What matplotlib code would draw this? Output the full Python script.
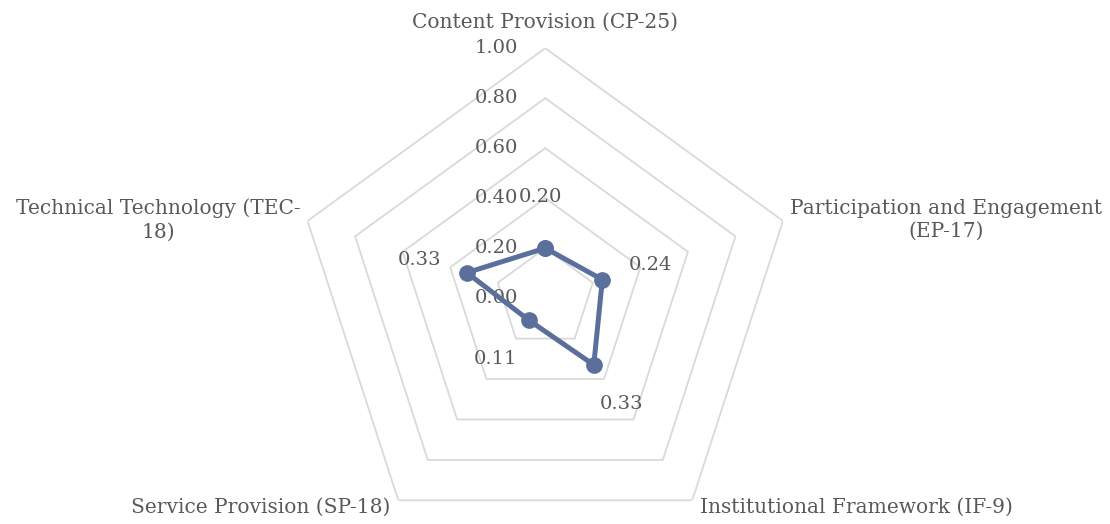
import numpy as np
import matplotlib.pyplot as plt

# data
categories = ['Content Provision (CP-25)', 'Participation and Engagement\n(EP-17)',
              'Institutional Framework (IF-9)', 'Service Provision (SP-18)',
              'Technical Technology (TEC-\n18)']
values = [0.20, 0.24, 0.33, 0.11, 0.33]
ticks = [0.0, 0.2, 0.4, 0.6, 0.8, 1.0]

plt.rcParams['font.family'] = ['DejaVu Serif']
txt_col = '#595959'
line_col = '#5b6f9c'
grid_col = '#d9d9d9'

fig = plt.figure(figsize=(11.1, 5.24), dpi=100)
ax = fig.add_axes([0.266, -0.046, 0.4505, 0.954], projection='polar')
ax.set_theta_offset(np.pi / 2)
ax.set_theta_direction(-1)
ax.set_ylim(0, 1)
ax.axis('off')

n = len(categories)
theta = np.linspace(0, 2 * np.pi, n, endpoint=False)
theta_c = np.append(theta, theta[0])

# pentagon grid
for t in ticks[1:]:
    ax.plot(theta_c, [t] * (n + 1), color=grid_col, lw=1.3, zorder=1)

# tick labels along top spoke
for t in ticks:
    ax.annotate(f'{t:.2f}', xy=(0, t), xytext=(-27, 0), textcoords='offset pixels',
                ha='right', va='center', color=txt_col, fontsize=14)

# series
vals_c = values + [values[0]]
ax.plot(theta_c, vals_c, color=line_col, lw=3.6, marker='o', markersize=11, zorder=3)

# data labels
offs = [(-5, 51), (48, 15), (28, -39), (-34, -39), (-47, 13)]
for th, v, o in zip(theta, values, offs):
    ax.annotate(f'{v:.2f}', xy=(th, v), xytext=o, textcoords='offset pixels',
                ha='center', va='center', color=txt_col, fontsize=14)

# category labels
cat_offs = [(0, 26), (163, 1), (164, -7), (-138, -7), (-149, 1)]
for th, c, o in zip(theta, categories, cat_offs):
    ax.annotate(c, xy=(th, 1.0), xytext=o, textcoords='offset pixels',
                ha='center', va='center', color=txt_col, fontsize=14.5,
                multialignment='center', linespacing=1.3)

fig.savefig('out.png', dpi=100)
